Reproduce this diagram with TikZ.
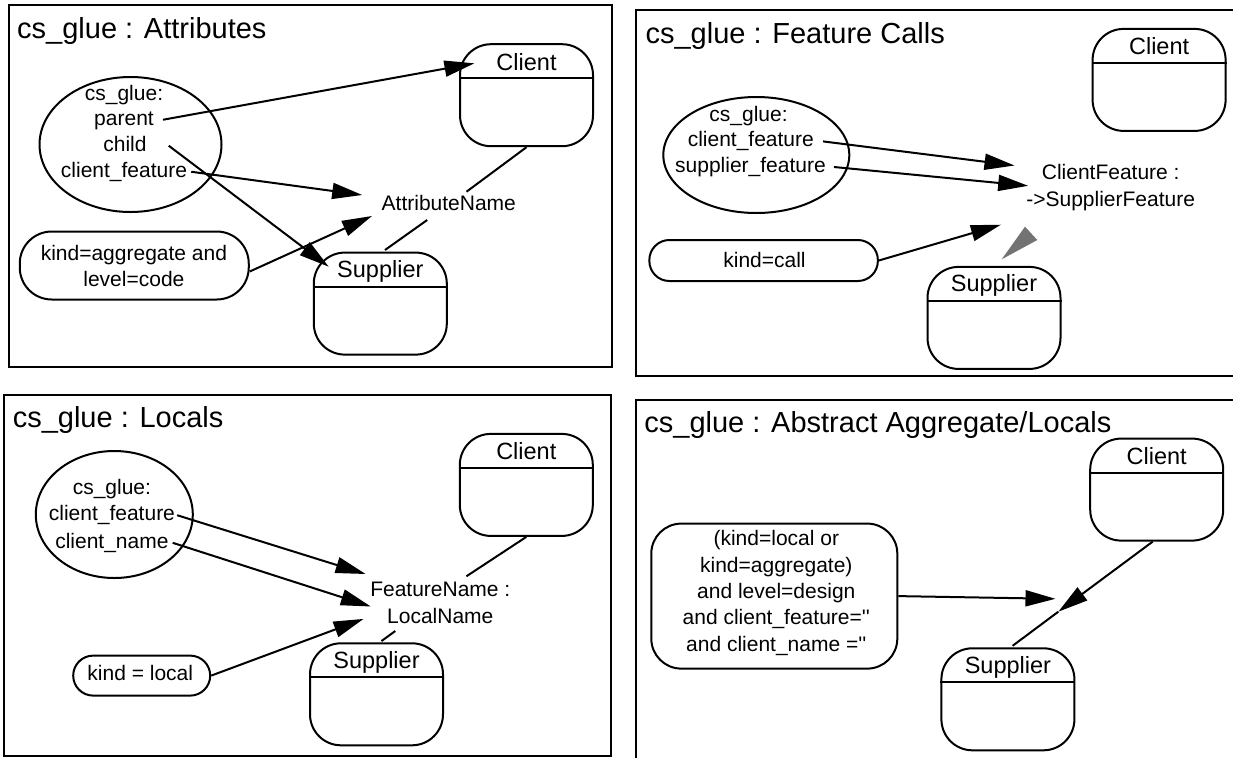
\documentclass[tikz,border=0pt]{standalone}
\usepackage{fontspec}
\setmainfont{Liberation Sans}[Ligatures=TeXOff]
\usetikzlibrary{arrows.meta,shapes.geometric}
\newcommand\TitleFont{\fontsize{29}{34}\selectfont}
\newcommand\BoxFont{\fontsize{23.5}{28}\selectfont}
\newcommand\SmallFont{\fontsize{21}{26.4}\selectfont}
\tikzset{
  lw/.style={line width=2pt},
  classbox/.style={draw, lw, rounded corners=31pt, minimum width=133pt, minimum height=102pt, inner sep=0pt},
  classname/.style={anchor=base, inner sep=0pt, font=\BoxFont},
  ov/.style={draw, lw, ellipse, inner sep=0pt},
  pill/.style={draw, lw, inner sep=0pt},
  txt/.style={font=\SmallFont, inner sep=0pt, text height=15pt, text depth=4.5pt},
  mtxt/.style={font=\SmallFont, inner sep=0pt, align=center},
  ttl/.style={anchor=base west, inner sep=0pt, font=\TitleFont},
  arr/.style={lw, -{Triangle[length=30pt,width=16pt]}},
  conn/.style={lw},
  shade/.style={fill=black!55, draw=none},
}
\begin{document}
\begin{tikzpicture}[x=1pt,y=-1pt]
\useasboundingbox (0,0) rectangle (1233,758);
\fill[white] (0,0) rectangle (1233,758);

% ================= Panel 1: Attributes =================
\draw[lw] (8.7,5) rectangle (612,367);
\node[ttl] (t1) at (17,38.5) {cs\_glue : Attributes};
\node[ov, minimum width=182pt, minimum height=135pt] (e1) at (130.5,144.5) {};
\node[txt] (e1a) at (124,94.75) {cs\_glue:};
\node[txt] (e1b) at (124,119.75) {parent};
\node[txt] (e1c) at (125,145.75) {child};
\node[txt] (e1d) at (124,171.75) {client\_feature};
\node[pill, rounded corners=32pt, minimum width=229pt, minimum height=68pt] (k1) at (134.25,265.5) {};
\node[mtxt] (k1t) at (133.9,266) {kind=aggregate and\\level=code};
\node[classbox] (c1) at (526.5,95.2) {};
\node[classname] (c1l) at ([yshift=-27pt]c1.north) {Client};
\draw[lw] ([yshift=-35pt]c1.north west) -- ([yshift=-35pt]c1.north east);
\node[classbox] (s1) at (380.3,303.6) {};
\node[classname] (s1l) at ([yshift=-26pt]s1.north) {Supplier};
\draw[lw] ([yshift=-35pt]s1.north west) -- ([yshift=-35pt]s1.north east);
\node[txt] (a1) at (448.8,205) {AttributeName};
\coordinate (p1t1) at (474.4,63.3);
\coordinate (p1t2) at (328.7,266.7);
\coordinate (p1t3) at (362.2,195);
\coordinate (p1t4) at (372,216);
\coordinate (p1u1) at (466.5,191.7);
\coordinate (p1u2) at (427.2,220);
\coordinate (p1u3) at (385,250);
\draw[arr] ([xshift=9pt]e1b.east) -- (p1t1);
\draw[arr] ([xshift=22pt]e1c.east) -- (p1t2);
\draw[arr] ([xshift=4pt]e1d.east) -- (p1t3);
\draw[arr] ([yshift=-6pt]k1.east) -- (p1t4);
\draw[conn] (c1.south) -- (p1u1);
\draw[conn] (p1u2) -- (p1u3);

% ================= Panel 2: Feature Calls =================
\draw[lw] (1233,10.1) -- (636.4,10.1) -- (636.4,375.7) -- (1233,375.7);
\node[ttl] (t2) at (645.4,43) {cs\_glue : Feature Calls};
\node[classbox] (c2) at (1159.1,79.9) {};
\node[classname] (c2l) at ([yshift=-27pt]c2.north) {Client};
\draw[lw] ([yshift=-35pt]c2.north west) -- ([yshift=-35pt]c2.north east);
\node[ov, minimum width=186pt, minimum height=116pt] (e2) at (756.3,155) {};
\node[txt] (e2a) at (748.5,116.4) {cs\_glue:};
\node[txt] (e2b) at (750.8,141.4) {client\_feature};
\node[txt] (e2c) at (750.5,167) {supplier\_feature};
\node[pill, rounded corners=20pt, minimum width=228.5pt, minimum height=41pt] (k2) at (763.6,260.5) {};
\node[txt] (k2t) at (764.5,261.8) {kind=call};
\node[classbox] (s2) at (994,317.9) {};
\node[classname] (s2l) at ([yshift=-26pt]s2.north) {Supplier};
\draw[lw] ([yshift=-35pt]s2.north west) -- ([yshift=-35pt]s2.north east);
\node[mtxt] (f2) at (1110.7,187.5) {ClientFeature :\\->SupplierFeature};
\coordinate (p2t1) at (1014.5,165.5);
\coordinate (p2t2) at (1028.2,185.8);
\coordinate (p2t3) at (1000.9,224.7);
\draw[arr] ([xshift=9pt]e2b.east) -- (p2t1);
\draw[arr] ([xshift=8pt]e2c.east) -- (p2t2);
\draw[arr] (k2.east) -- (p2t3);
\fill[shade] (1025,226.7) -- (1037.3,240) -- (1001.7,259.3) -- cycle;

% ================= Panel 3: Locals =================
\draw[lw] (4,395.1) rectangle (610.7,756);
\node[ttl] (t3) at (12.6,427) {cs\_glue : Locals};
\node[classbox] (c3) at (526.3,484.9) {};
\node[classname] (c3l) at ([yshift=-27pt]c3.north) {Client};
\draw[lw] ([yshift=-35pt]c3.north west) -- ([yshift=-35pt]c3.north east);
\node[ov, minimum width=157pt, minimum height=127pt] (e3) at (114.3,514.5) {};
\node[txt] (e3a) at (111.9,489) {cs\_glue:};
\node[txt] (e3b) at (111.9,515.2) {client\_feature};
\node[txt] (e3c) at (111.9,542.8) {client\_name};
\node[pill, rounded corners=20pt, minimum width=137pt, minimum height=40pt] (k3) at (141.7,675.6) {};
\node[txt] (k3t) at (140.3,675.6) {kind = local};
\node[classbox] (s3) at (376.5,694.3) {};
\node[classname] (s3l) at ([yshift=-26pt]s3.north) {Supplier};
\draw[lw] ([yshift=-35pt]s3.north west) -- ([yshift=-35pt]s3.north east);
\node[mtxt] (f3) at (440.3,603) {FeatureName :\\LocalName};
\coordinate (p3t1) at (365.6,574);
\coordinate (p3t2) at (370.8,606.5);
\coordinate (p3t3) at (363.6,618.9);
\coordinate (p3u1) at (466.4,576.3);
\coordinate (p3u2) at (395.3,631);
\coordinate (p3u3) at (381.4,641.1);
\draw[arr] ([xshift=2pt]e3b.east) -- (p3t1);
\draw[arr] ([xshift=4pt]e3c.east) -- (p3t2);
\draw[arr] (k3.east) -- (p3t3);
\draw[conn] (c3.south) -- (p3u1);
\draw[conn] (p3u2) -- (p3u3);

% ================= Panel 4: Abstract Aggregate/Locals =================
\draw[lw] (635.6,758) -- (635.6,399.5) -- (1233,399.5);
\node[ttl] (t4) at (644.2,432) {cs\_glue : Abstract Aggregate/Locals};
\node[classbox] (c4) at (1156.7,489.6) {};
\node[classname] (c4l) at ([yshift=-27pt]c4.north) {Client};
\draw[lw] ([yshift=-35pt]c4.north west) -- ([yshift=-35pt]c4.north east);
\node[pill, rounded corners=30pt, minimum width=246pt, minimum height=145pt] (k4) at (774.3,596.1) {};
\node[mtxt] (k4t) at (776.3,593) {(kind=local or\\kind=aggregate)\\and level=design\\and client\_feature=''\\and client\_name =''};
\node[classbox] (s4) at (1007.9,699.3) {};
\node[classname] (s4l) at ([yshift=-26pt]s4.north) {Supplier};
\draw[lw] ([yshift=-35pt]s4.north west) -- ([yshift=-35pt]s4.north east);
\coordinate (p4t1) at (1055.5,598.8);
\coordinate (p4t2) at (1058.3,611.7);
\coordinate (p4u1) at (1012.6,645.8);
\draw[arr] (k4.east) -- (p4t1);
\draw[arr] ([xshift=-4pt]c4.south) -- (p4t2);
\draw[conn] (p4u1) -- (p4t2);
\end{tikzpicture}
\end{document}
